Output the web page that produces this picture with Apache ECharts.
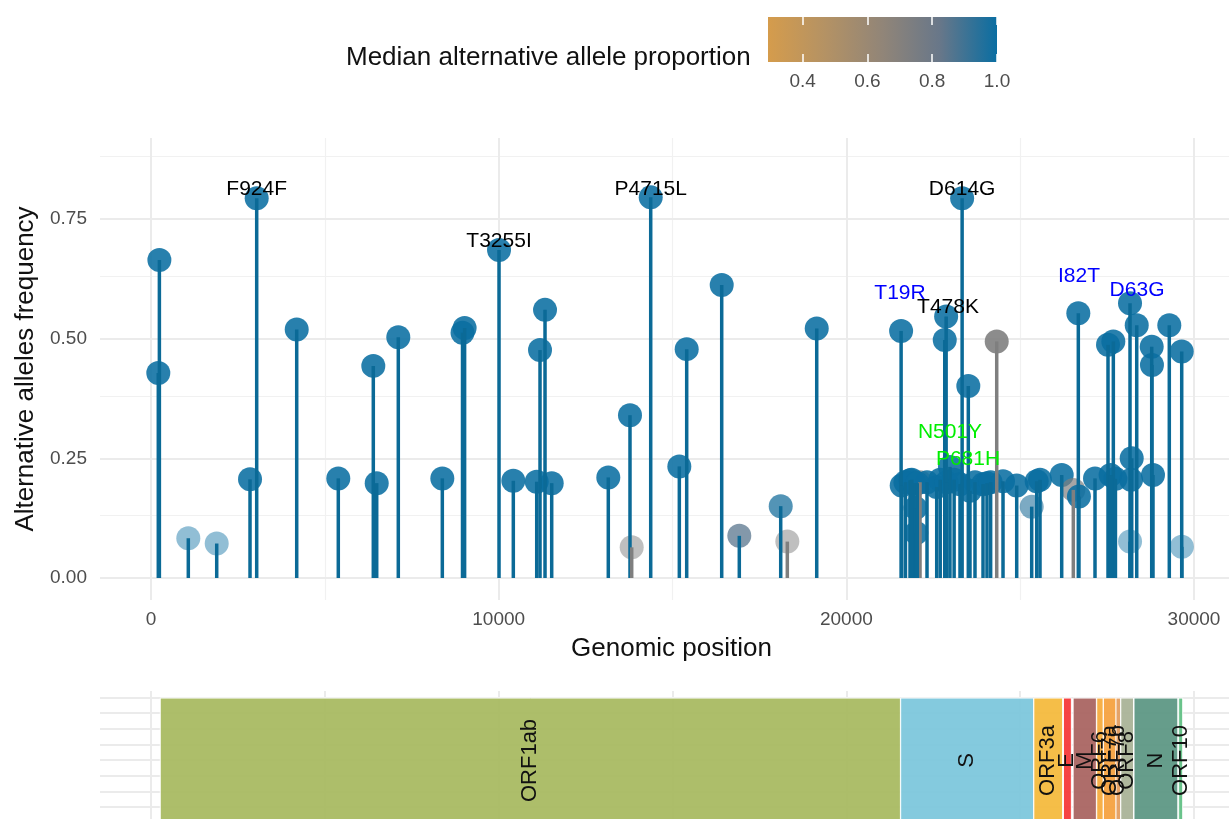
<!DOCTYPE html>
<html><head><meta charset="utf-8">
<script src="https://cdn.jsdelivr.net/npm/echarts@6/dist/echarts.min.js"></script>
<style>html,body{margin:0;padding:0;background:#fff}#c{width:1229px;height:819px}</style>
</head><body><div id="c"></div>
<script>
// ---------- data ----------
const positions = [241,210,1073,1890,2848,3040,4191,5387,6394,6492,7113,8379,8960,9020,10010,10421,11094,11189,11333,11525,13153,13777,13826,14373,15196,15408,16415,16921,18112,18302,19148,21575,21592,21700,21831,21950,22119,21990,22010,22320,22599,22700,22830,22870,22887,22980,23100,23269,23330,23508,23556,23700,23931,24045,24150,24325,24506,24900,25331,25475,25570,26194,26528,26672,26690,27152,27526,27679,27600,27740,28159,28160,28208,28190,28352,28783,28790,28820,29289,29646,29650,21880,22040];
const frequencies = [0.664,0.428,0.083,0.072,0.206,0.793,0.519,0.208,0.443,0.198,0.503,0.208,0.512,0.522,0.685,0.203,0.201,0.476,0.560,0.198,0.210,0.340,0.064,0.795,0.233,0.478,0.612,0.088,0.150,0.076,0.521,0.516,0.193,0.200,0.204,0.198,0.200,0.146,0.094,0.200,0.190,0.205,0.497,0.546,0.200,0.232,0.205,0.196,0.793,0.401,0.182,0.200,0.196,0.198,0.200,0.494,0.202,0.193,0.149,0.202,0.205,0.215,0.184,0.553,0.170,0.208,0.487,0.494,0.215,0.207,0.574,0.076,0.250,0.205,0.528,0.483,0.445,0.215,0.528,0.473,0.065,0.205,0.198];
// median alternative allele proportion (null = NA)
const medianProportion = [1,1,1,1,1,1,1,1,1,1,1,1,1,1,1,1,1,1,1,1,1,1,null,1,1,1,1,0.85,0.97,null,1,1,1,1,1,1,null,1,1,1,1,1,1,1,1,1,1,1,1,1,1,1,1,1,1,null,1,1,0.95,1,1,1,null,1,1,1,1,1,1,1,1,1,1,1,1,1,1,1,1,1,1,1,1];
const pointAlpha = [0.88,0.88,0.45,0.45,0.88,0.88,0.88,0.88,0.88,0.88,0.88,0.88,0.88,0.88,0.88,0.88,0.88,0.88,0.88,0.88,0.88,0.88,0.5,0.88,0.88,0.88,0.88,0.75,0.75,0.5,0.88,0.88,0.88,0.88,0.88,0.88,0.7,0.88,0.88,0.88,0.88,0.88,0.88,0.88,0.88,0.88,0.88,0.88,0.88,0.88,0.88,0.88,0.88,0.88,0.88,0.9,0.88,0.88,0.6,0.88,0.88,0.88,0.7,0.88,0.88,0.88,0.88,0.88,0.88,0.88,0.88,0.45,0.88,0.88,0.88,0.88,0.88,0.88,0.88,0.88,0.45,0.88,0.88];

const mutationLabels = ['F924F','T3255I','P4715L','D614G','T19R','T478K','I82T','D63G','N501Y','P681H'];
const mutationLabelX = [3040,10010,14373,23330,21543,22924,26692,28361,22981,23499];
const mutationLabelY = [0.8125,0.704,0.8125,0.8125,0.595,0.566,0.631,0.602,0.305,0.249];
const mutationLabelColor = ['#000','#000','#000','#000','#0000ff','#000','#0000ff','#0000ff','#00ee00','#00ee00'];

const geneNames = ['ORF1ab','S','ORF3a','E','M','ORF6','ORF7a','ORF7b','ORF8','N','ORF10'];
const geneStart = [266,21563,25393,26245,26523,27202,27394,27756,27894,28274,29558];
const geneEnd   = [21555,25384,26220,26472,27191,27387,27759,27887,28259,29533,29674];
const genePalette = ['#a7b95f','#7bc6dc','#f4b93a','#f53535','#a8625f','#f6aa3a','#f5a03c','#e39c5c','#a8b296','#5a9682','#5fbe82'];

const xTicks = [0,10000,20000,30000];
const xMinorTicks = [5000,15000,25000];
const yTicks = [0,0.25,0.5,0.75];
const yMinorTicks = [0.125,0.375,0.625,0.875];
const geneRowLines = [1,2,3,4,5,6,7,8];
const legendTicks = [0.4,0.6,0.8,1.0];
const legendLimits = [0.293,1.0];

// ---------- styling ----------
const FONT = "'Liberation Sans', Arial, sans-serif";
const NA_COLOR = '#7f7f7f';
const rampColors = ['#d59c4c','#b49264','#918578','#687789','#0a6ea2'];
const X_MIN = -1467, X_MAX = 31006, Y_MIN = -0.046, Y_MAX = 0.919;
const GENE_Y_MIN = 0.247, GENE_Y_MAX = 8.4, geneYLow = 0, geneYHigh = 7.95;

function colorFor(m){
  if (m === null || m === undefined) return NA_COLOR;
  const t = Math.max(0, Math.min(1, (m - legendLimits[0])/(legendLimits[1]-legendLimits[0])));
  return echarts.color.lerp(t, rampColors);
}

const chart = echarts.init(document.getElementById('c'), null, {renderer:'canvas'});

const majorLine = {color:'#ebebeb', width:2, type:'solid'};
const minorLine = {color:'#f1f1f1', width:1.2, type:'solid'};
function gridLines(xi, yi, xs, ys, style){
  const d = [];
  xs.forEach(v => d.push({xAxis:v}));
  ys.forEach(v => d.push({yAxis:v}));
  return {type:'line', xAxisIndex:xi, yAxisIndex:yi, data:[], z:0, silent:true, showSymbol:false,
    markLine:{z:0, silent:true, symbol:['none','none'], label:{show:false}, lineStyle:style, data:d, animation:false}};
}

const pointData = positions.map((p,i)=>({
  value:[p, frequencies[i], medianProportion[i]],
  itemStyle:{color: colorFor(medianProportion[i]), opacity: pointAlpha[i]}
}));

const option = {
  animation:false,
  textStyle:{fontFamily:FONT},
  title:{text:'Median alternative allele proportion', left:346, top:45, padding:0,
    textStyle:{fontSize:26, fontWeight:'normal', color:'#111', fontFamily:FONT}},
  grid:[
    {left:100, right:0, top:138, height:462},
    {left:100, right:0, top:691, bottom:0},
    {left:768, width:229, top:17, height:45}
  ],
  xAxis:[
    {gridIndex:0, type:'value', min:X_MIN, max:X_MAX,
      axisLine:{show:false}, axisTick:{show:false}, splitLine:{show:false},
      axisLabel:{customValues:xTicks, formatter:v=>String(v), fontSize:19, color:'#4d4d4d', margin:10, fontFamily:FONT},
      name:'Genomic position', nameLocation:'middle', nameGap:36,
      nameTextStyle:{fontSize:26, color:'#111', padding:[0,0,0,14], fontFamily:FONT}},
    {gridIndex:1, type:'value', min:X_MIN, max:X_MAX, show:false, splitLine:{show:false}},
    {gridIndex:2, type:'value', min:legendLimits[0], max:legendLimits[1], position:'bottom', z:10,
      axisLine:{show:false}, splitLine:{show:false},
      axisTick:{show:true, inside:true, length:8, customValues:legendTicks, lineStyle:{color:'#fff', width:1.5}},
      axisLabel:{customValues:legendTicks, formatter:v=>v.toFixed(1), fontSize:19, color:'#4d4d4d', margin:10, fontFamily:FONT}},
    {gridIndex:2, type:'value', min:legendLimits[0], max:legendLimits[1], position:'top', z:10,
      axisLine:{show:false}, splitLine:{show:false}, axisLabel:{show:false},
      axisTick:{show:true, inside:true, length:8, customValues:legendTicks, lineStyle:{color:'#fff', width:1.5}}}
  ],
  yAxis:[
    {gridIndex:0, type:'value', min:Y_MIN, max:Y_MAX,
      axisLine:{show:false}, axisTick:{show:false}, splitLine:{show:false},
      axisLabel:{customValues:yTicks, formatter:v=>v.toFixed(2), fontSize:19, color:'#4d4d4d', margin:13, fontFamily:FONT},
      name:'Alternative alleles frequency', nameLocation:'middle', nameGap:57,
      nameTextStyle:{fontSize:26, color:'#111', fontFamily:FONT}},
    {gridIndex:1, type:'value', min:GENE_Y_MIN, max:GENE_Y_MAX, show:false, splitLine:{show:false}},
    {gridIndex:2, type:'value', min:0, max:1, show:false, splitLine:{show:false}}
  ],
  series:[
    gridLines(0,0,xMinorTicks,yMinorTicks,minorLine),
    gridLines(0,0,xTicks,yTicks,majorLine),
    gridLines(1,1,xMinorTicks.concat(xTicks),geneRowLines,majorLine),
    // gene rectangles + labels
    {type:'custom', xAxisIndex:1, yAxisIndex:1, z:2, silent:true, clip:false,
      data: geneNames.map((n,i)=>[geneStart[i], geneEnd[i], i]),
      renderItem:(params, api)=>{
        const i = api.value(2);
        const p0 = api.coord([api.value(0), geneYLow]);
        const p1 = api.coord([api.value(1), geneYHigh]);
        const pm = api.coord([(api.value(0)+api.value(1))/2, (geneYLow+geneYHigh)/2]);
        return {type:'group', children:[
          {type:'rect', shape:{x:p0[0], y:p1[1], width:p1[0]-p0[0], height:p0[1]-p1[1]},
            style:{fill:genePalette[i], opacity:0.93, stroke:'#fff', lineWidth:1}},
          {type:'text', x:pm[0], y:pm[1], rotation:Math.PI/2, z2:10,
            style:{text:geneNames[i], fill:'#111', font:'22px '+FONT, align:'center', verticalAlign:'middle'}}
        ]};
      }},
    // points
    {type:'scatter', xAxisIndex:0, yAxisIndex:0, z:2, symbolSize:24, data:pointData, silent:true},
    // stems
    {type:'custom', xAxisIndex:0, yAxisIndex:0, z:3, silent:true,
      data: positions.map((p,i)=>[p, frequencies[i], i]),
      renderItem:(params, api)=>{
        const i = api.value(2);
        const a = api.coord([api.value(0), 0]);
        const b = api.coord([api.value(0), api.value(1)]);
        return {type:'line', shape:{x1:a[0], y1:a[1], x2:b[0], y2:b[1]},
          style:{stroke: medianProportion[i]===null ? NA_COLOR : '#0b6a97', lineWidth:3.5}};
      }},
    // mutation labels
    {type:'custom', xAxisIndex:0, yAxisIndex:0, z:5, silent:true,
      data: mutationLabels.map((t,i)=>[mutationLabelX[i], mutationLabelY[i], i]),
      renderItem:(params, api)=>{
        const i = api.value(2);
        const p = api.coord([api.value(0), api.value(1)]);
        return {type:'text', x:p[0], y:p[1],
          style:{text:mutationLabels[i], fill:mutationLabelColor[i], font:'21px '+FONT, align:'center', verticalAlign:'middle'}};
      }},
    // legend colour bar
    {type:'custom', xAxisIndex:2, yAxisIndex:2, z:1, silent:true,
      data:[[legendLimits[0], legendLimits[1]]],
      renderItem:(params, api)=>{
        const a = api.coord([api.value(0), 0]);
        const b = api.coord([api.value(1), 1]);
        const stops = rampColors.map((c,k)=>({offset:k/(rampColors.length-1), color:c}));
        return {type:'rect', shape:{x:a[0], y:b[1], width:b[0]-a[0], height:a[1]-b[1]},
          style:{fill:new echarts.graphic.LinearGradient(0,0,1,0,stops)}};
      }}
  ]
};
chart.setOption(option);
</script>
</body></html>
